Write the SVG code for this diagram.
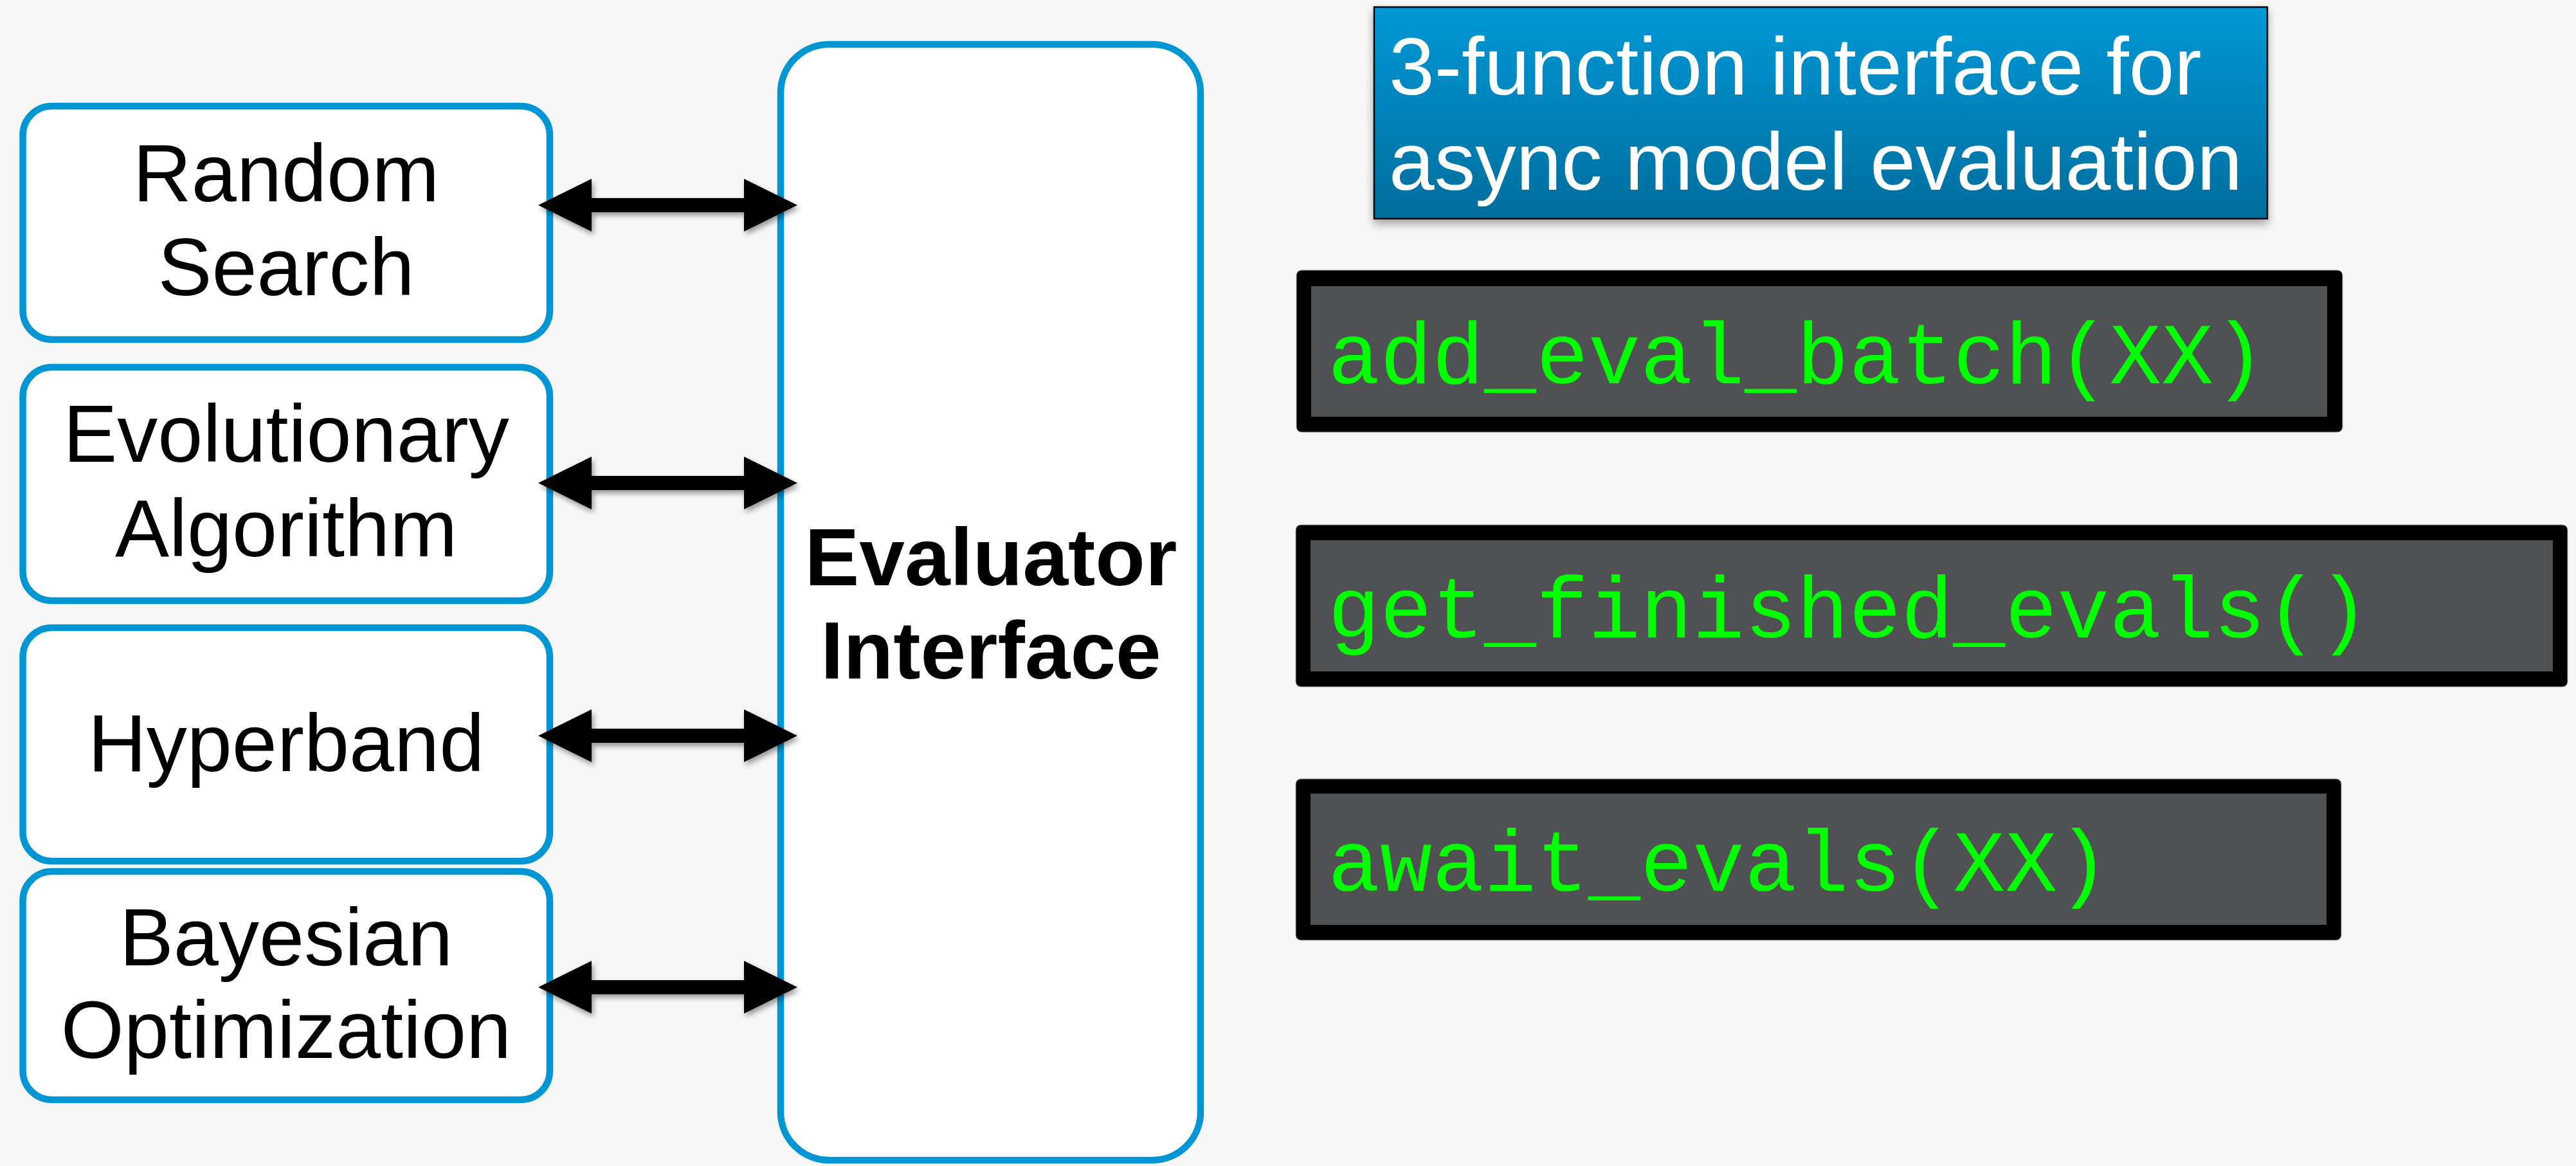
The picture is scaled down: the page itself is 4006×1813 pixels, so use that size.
<svg xmlns="http://www.w3.org/2000/svg" width="4006" height="1813" viewBox="0 0 4006 1813">
  <defs>
    <linearGradient id="titleFill" x1="0" y1="0" x2="0" y2="1">
      <stop offset="0" stop-color="#0098D6"/>
      <stop offset="1" stop-color="#006D9C"/>
    </linearGradient>
    <filter id="arrowShadow" x="-10%" y="-40%" width="120%" height="180%">
      <feDropShadow dx="3" dy="5" stdDeviation="4" flood-color="#000" flood-opacity="0.4"/>
    </filter>
    <filter id="boxShadow" x="-5%" y="-10%" width="110%" height="125%">
      <feDropShadow dx="0" dy="7" stdDeviation="7" flood-color="#000" flood-opacity="0.35"/>
    </filter>
  </defs>
  <style>
    .algo { fill: #FFFFFF; stroke: #0096D4; stroke-width: 10.5; }
    .algo-text { font-family: "Liberation Sans", Arial, sans-serif; font-size: 126px; fill: #000; text-anchor: middle; }
    .eval-text { font-family: "Liberation Sans", Arial, sans-serif; font-size: 127px; font-weight: bold; fill: #000; text-anchor: middle; }
    .title-text { font-family: "Liberation Sans", Arial, sans-serif; font-size: 127px; fill: #FFFFFF; }
    .code-frame { fill: #000; stroke: #B0B0B0; stroke-width: 1; }
    .code-body { fill: #505153; }
    .code-text { font-family: "Liberation Mono", "Courier New", monospace; font-size: 135px; fill: #00FF00; }
    .arrow { fill: #000; filter: url(#arrowShadow); }
  </style>

  <rect width="4006" height="1813" fill="#F7F7F7"/>

  <!-- search algorithms -->
  <g id="random-search">
    <rect class="algo" x="35.5" y="165" width="819.5" height="363" rx="45"/>
    <text class="algo-text" x="445" y="313">Random</text>
    <text class="algo-text" x="445" y="459">Search</text>
  </g>
  <g id="evolutionary-algorithm">
    <rect class="algo" x="35.5" y="571" width="819.5" height="363" rx="45"/>
    <text class="algo-text" x="445" y="718">Evolutionary</text>
    <text class="algo-text" x="445" y="865">Algorithm</text>
  </g>
  <g id="hyperband">
    <rect class="algo" x="35.5" y="976" width="819.5" height="363" rx="45"/>
    <text class="algo-text" x="445" y="1199">Hyperband</text>
  </g>
  <g id="bayesian-optimization">
    <rect class="algo" x="35.5" y="1355" width="819.5" height="355" rx="45"/>
    <text class="algo-text" x="445" y="1501">Bayesian</text>
    <text class="algo-text" x="445" y="1645">Optimization</text>
  </g>

  <!-- evaluator -->
  <g id="evaluator-interface">
    <rect class="algo" x="1214" y="69" width="653" height="1735" rx="75"/>
    <text class="eval-text" x="1541" y="910">Evaluator</text>
    <text class="eval-text" x="1541" y="1055">Interface</text>
  </g>

  <!-- two-way links between algorithms and evaluator -->
  <g id="connectors">
    <path class="arrow" d="M837,319 L920,278 L920,308 L1157,308 L1157,278 L1240,319 L1157,360 L1157,330 L920,330 L920,360 Z"/>
    <path class="arrow" d="M837,751 L920,710 L920,740 L1157,740 L1157,710 L1240,751 L1157,792 L1157,762 L920,762 L920,792 Z"/>
    <path class="arrow" d="M837,1144 L920,1103 L920,1133 L1157,1133 L1157,1103 L1240,1144 L1157,1185 L1157,1155 L920,1155 L920,1185 Z"/>
    <path class="arrow" d="M837,1535 L920,1494 L920,1524 L1157,1524 L1157,1494 L1240,1535 L1157,1576 L1157,1546 L920,1546 L920,1576 Z"/>
  </g>

  <!-- interface heading -->
  <g id="interface-title">
    <rect x="2137" y="11" width="1389" height="329" fill="url(#titleFill)" stroke="#000" stroke-width="2.5" filter="url(#boxShadow)"/>
    <text class="title-text" x="2160" y="147">3-function interface for</text>
    <text class="title-text" x="2160" y="295">async model evaluation</text>
  </g>

  <!-- interface functions -->
  <g id="fn-add-eval-batch">
    <rect class="code-frame" x="2016" y="420" width="1627" height="252" rx="8"/>
    <rect class="code-body" x="2039" y="445" width="1580" height="203"/>
    <text class="code-text" x="2065" y="596">add_eval_batch(XX)</text>
  </g>
  <g id="fn-get-finished-evals">
    <rect class="code-frame" x="2015" y="816" width="1978" height="252" rx="8"/>
    <rect class="code-body" x="2038" y="840" width="1932" height="204"/>
    <text class="code-text" x="2065" y="991">get_finished_evals()</text>
  </g>
  <g id="fn-await-evals">
    <rect class="code-frame" x="2015" y="1211" width="1626" height="251" rx="8"/>
    <rect class="code-body" x="2038" y="1234" width="1580" height="204"/>
    <text class="code-text" x="2065" y="1385">await_evals(XX)</text>
  </g>
</svg>
